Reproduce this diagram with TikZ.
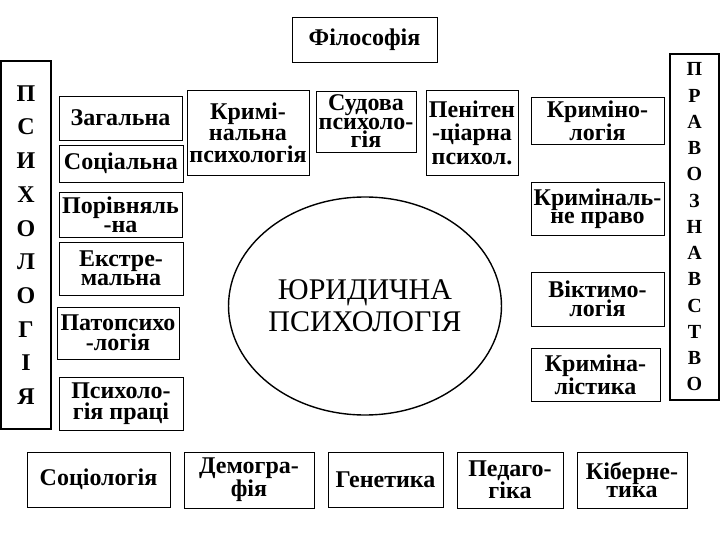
\documentclass[tikz,border=0pt]{standalone}
\usepackage{fontspec}
\setmainfont{Liberation Serif}
\usetikzlibrary{shapes.geometric}
\tikzset{
  box/.style={draw,line width=0.9pt,rectangle,inner sep=0pt,align=center,
    font=\bfseries\fontsize{24}{#1}\selectfont},
  box/.default=20,
  sz/.style 2 args={minimum width=#1pt,minimum height=#2pt},
  tall/.style={draw,line width=2pt,rectangle,inner sep=0pt,align=center,
    font=\bfseries\fontsize{#1}{#1}\selectfont},
}
\begin{document}
\begin{tikzpicture}[x=1pt,y=-1pt]
\useasboundingbox (0,0) rectangle (720,540);
% top
\node[box,sz={145}{45}] (fil) at (364.5,39.5) {Філософія};
% left column
\node[tall=24,sz={50}{368},font=\bfseries\fontsize{24}{33.7}\selectfont] (psy) at (26,245) {П\\С\\И\\Х\\О\\Л\\О\\Г\\І\\Я};
\node[box,sz={123}{44}] (zag) at (120.5,118) {Загальна};
\node[box,sz={124}{37}] (soc) at (121,163.5) {Соціальна};
\node[box=19,sz={123}{45}] (por) at (120.5,214.5) {Порівняль\\-на};
\node[box=19,sz={124}{53}] (ekstr) at (121,268.5) {Екстре-\\мальна};
\node[box=20.5,sz={122}{52}] (pato) at (118,333) {Патопсихо\\-логія};
\node[box=21,sz={124}{53}] (prac) at (121,403.5) {Психоло-\\гія праці};
% top row
\node[box=21.5,sz={122}{85}] (krim) at (248,132.5) {Кримі-\\нальна\\психологія};
\node[box=18.5,sz={100}{61}] (sud) at (366,121.5) {Судова\\психоло-\\гія};
\node[box=23.5,sz={92}{85}] (pen) at (472,132.5) {Пенітен\\-ціарна\\психол.};
% right column
\node[box=19.5,sz={133}{47}] (krimnl) at (597.5,120.5) {Криміно-\\логія};
\node[box=18.5,sz={133}{53}] (krpr) at (597.5,208.5) {Криміналь-\\не право};
\node[box=18.5,sz={133}{54}] (vikt) at (597.5,299) {Віктимо-\\логія};
\node[box=20,sz={129}{53}] (krst) at (595.5,374.5) {Криміна-\\лістика};
\node[tall=20,sz={49}{346},font=\bfseries\fontsize{20}{26.25}\selectfont] (pravo) at (694.5,227) {П\\Р\\А\\В\\О\\З\\Н\\А\\В\\С\\Т\\В\\О};
% centre
\node[draw,ellipse,line width=1.4pt,inner sep=0pt,minimum width=266pt,minimum height=218pt,
  align=center,font=\fontsize{30}{32}\selectfont] (jur) at (365,306) {ЮРИДИЧНА\\ПСИХОЛОГІЯ};
% bottom row
\node[box,sz={143}{55}] (sociol) at (98.5,479.5) {Соціологія};
\node[box=17,sz={130}{56}] (demo) at (249,480) {Демогра-\\фія};
\node[box,sz={115}{55}] (gen) at (385.5,479.5) {Генетика};
\node[box=18.5,sz={106}{56}] (ped) at (510,480) {Педаго-\\гіка};
\node[box=18.5,sz={110}{56}] (kib) at (632,480) {Кіберне-\\тика};
\end{tikzpicture}
\end{document}
